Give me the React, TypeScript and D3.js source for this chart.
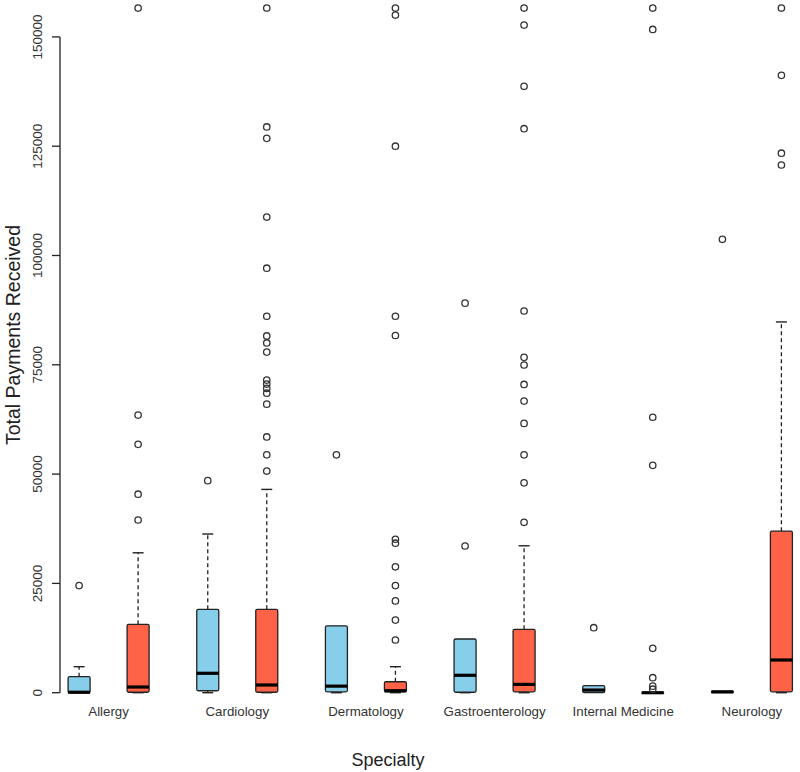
import React from "react";
import * as d3 from "d3";

const specialties = ["Allergy", "Cardiology", "Dermatology", "Gastroenterology", "Internal Medicine", "Neurology"];
const groups = ["Group 1", "Group 2"];
const groupColors = ["#87CEEB", "#FF6347"];
const yTicks = [0, 25000, 50000, 75000, 100000, 125000, 150000];

// Group 1 (blue) box statistics per specialty
const blueLower = [0, 0, 0, 0, 0, 0];
const blueQ1 = [0, 450, 200, 100, 0, 0];
const blueMedian = [100, 4440, 1500, 3980, 600, 200];
const blueQ3 = [3660, 19070, 15300, 12280, 1600, 300];
const blueUpper = [5950, 36300, 15300, 12280, 1600, 300];
const blueOutliers = [
  [24500],
  [48500],
  [54400],
  [33550, 89100],
  [14870],
  [103700],
];

// Group 2 (red) box statistics per specialty
const redLower = [0, 0, 0, 0, 0, 0];
const redQ1 = [100, 100, 200, 200, 0, 200];
const redMedian = [1300, 1760, 450, 1900, 0, 7480];
const redQ3 = [15640, 19070, 2500, 14500, 0, 36950];
const redUpper = [32000, 46500, 5950, 33600, 0, 84800];
const redOutliers = [
  [39500, 45400, 56800, 63500, 156600],
  [50700, 54400, 58500, 66000, 68500, 69600, 70600, 71500, 77900, 80000, 81600, 86100, 97100, 108800, 126800, 129400, 156600],
  [12050, 16600, 21000, 24500, 28800, 34200, 35100, 81700, 86100, 125000, 155000, 156600],
  [38970, 48000, 54400, 61600, 66700, 70500, 74950, 76700, 87300, 129000, 138700, 152700, 156600],
  [800, 1500, 3430, 10150, 52000, 63000, 151700, 156600],
  [120700, 123400, 141200, 156600],
];

const seriesStats = [
  { lower: blueLower, q1: blueQ1, median: blueMedian, q3: blueQ3, upper: blueUpper, outliers: blueOutliers },
  { lower: redLower, q1: redQ1, median: redMedian, q3: redQ3, upper: redUpper, outliers: redOutliers },
];

const W = 800;
const H = 772;
const FONT = "'Liberation Sans', Arial, Helvetica, sans-serif";

export default function App() {
  const y = d3.scaleLinear().domain([0, 150000]).range([692.7, 36.9]);
  const x = d3.scalePoint<string>().domain(specialties).range([108.6, 751.9]);
  const sub = d3.scalePoint<string>().domain(groups).range([-29.5, 29.5]);
  const boxW = 22;
  const capW = 11;

  const boxes: React.ReactNode[] = [];
  specialties.forEach((sp, i) => {
    groups.forEach((g, gi) => {
      const s = seriesStats[gi];
      const cx = (x(sp) as number) + (sub(g) as number);
      const yq1 = y(s.q1[i]);
      const yq3 = y(s.q3[i]);
      const ymed = y(s.median[i]);
      const yup = y(s.upper[i]);
      const ylo = y(s.lower[i]);
      boxes.push(
        <g key={`${sp}-${g}`}>
          {s.upper[i] > s.q3[i] && (
            <>
              <line x1={cx} x2={cx} y1={yq3} y2={yup} stroke="#222" strokeWidth={1.3} strokeDasharray="4,3" />
              <line x1={cx - capW / 2} x2={cx + capW / 2} y1={yup} y2={yup} stroke="#222" strokeWidth={1.4} />
            </>
          )}
          {s.lower[i] < s.q1[i] && (
            <>
              <line x1={cx} x2={cx} y1={yq1} y2={ylo} stroke="#222" strokeWidth={1.3} strokeDasharray="4,3" />
              <line x1={cx - capW / 2} x2={cx + capW / 2} y1={ylo} y2={ylo} stroke="#222" strokeWidth={1.4} />
            </>
          )}
          <rect
            x={cx - boxW / 2}
            y={yq3}
            width={boxW}
            height={Math.max(0.5, yq1 - yq3)}
            fill={groupColors[gi]}
            stroke="#222"
            strokeWidth={1.3}
            rx={1.5}
          />
          <line x1={cx - boxW / 2} x2={cx + boxW / 2} y1={ymed} y2={ymed} stroke="#000" strokeWidth={3.2} />
          {s.outliers[i].map((v, k) => (
            <circle key={k} cx={cx} cy={y(v)} r={3.2} fill="none" stroke="#333" strokeWidth={1.3} />
          ))}
        </g>
      );
    });
  });

  return (
    <svg
      width={W}
      height={H}
      style={{ position: "absolute", left: 0, top: 0, background: "#fff" }}
      fontFamily={FONT}
    >
      <rect x={0} y={0} width={W} height={H} fill="#fff" />
      {/* y axis */}
      <line x1={60} x2={60} y1={y(150000)} y2={y(0)} stroke="#222" strokeWidth={1.3} />
      {yTicks.map((t) => (
        <g key={t}>
          <line x1={52} x2={60} y1={y(t)} y2={y(t)} stroke="#222" strokeWidth={1.3} />
          <text
            transform={`translate(42, ${y(t)}) rotate(-90)`}
            textAnchor="middle"
            fontSize={13.5}
            fill="#333"
          >
            {t}
          </text>
        </g>
      ))}
      <text transform={`translate(20, 335) rotate(-90)`} textAnchor="middle" fontSize={19.5} fill="#222">
        Total Payments Received
      </text>
      {/* x labels */}
      {specialties.map((sp) => (
        <text key={sp} x={x(sp)} y={716} textAnchor="middle" fontSize={13.3} fill="#333">
          {sp}
        </text>
      ))}
      <text x={388} y={766} textAnchor="middle" fontSize={18} fill="#222">
        Specialty
      </text>
      {boxes}
    </svg>
  );
}
